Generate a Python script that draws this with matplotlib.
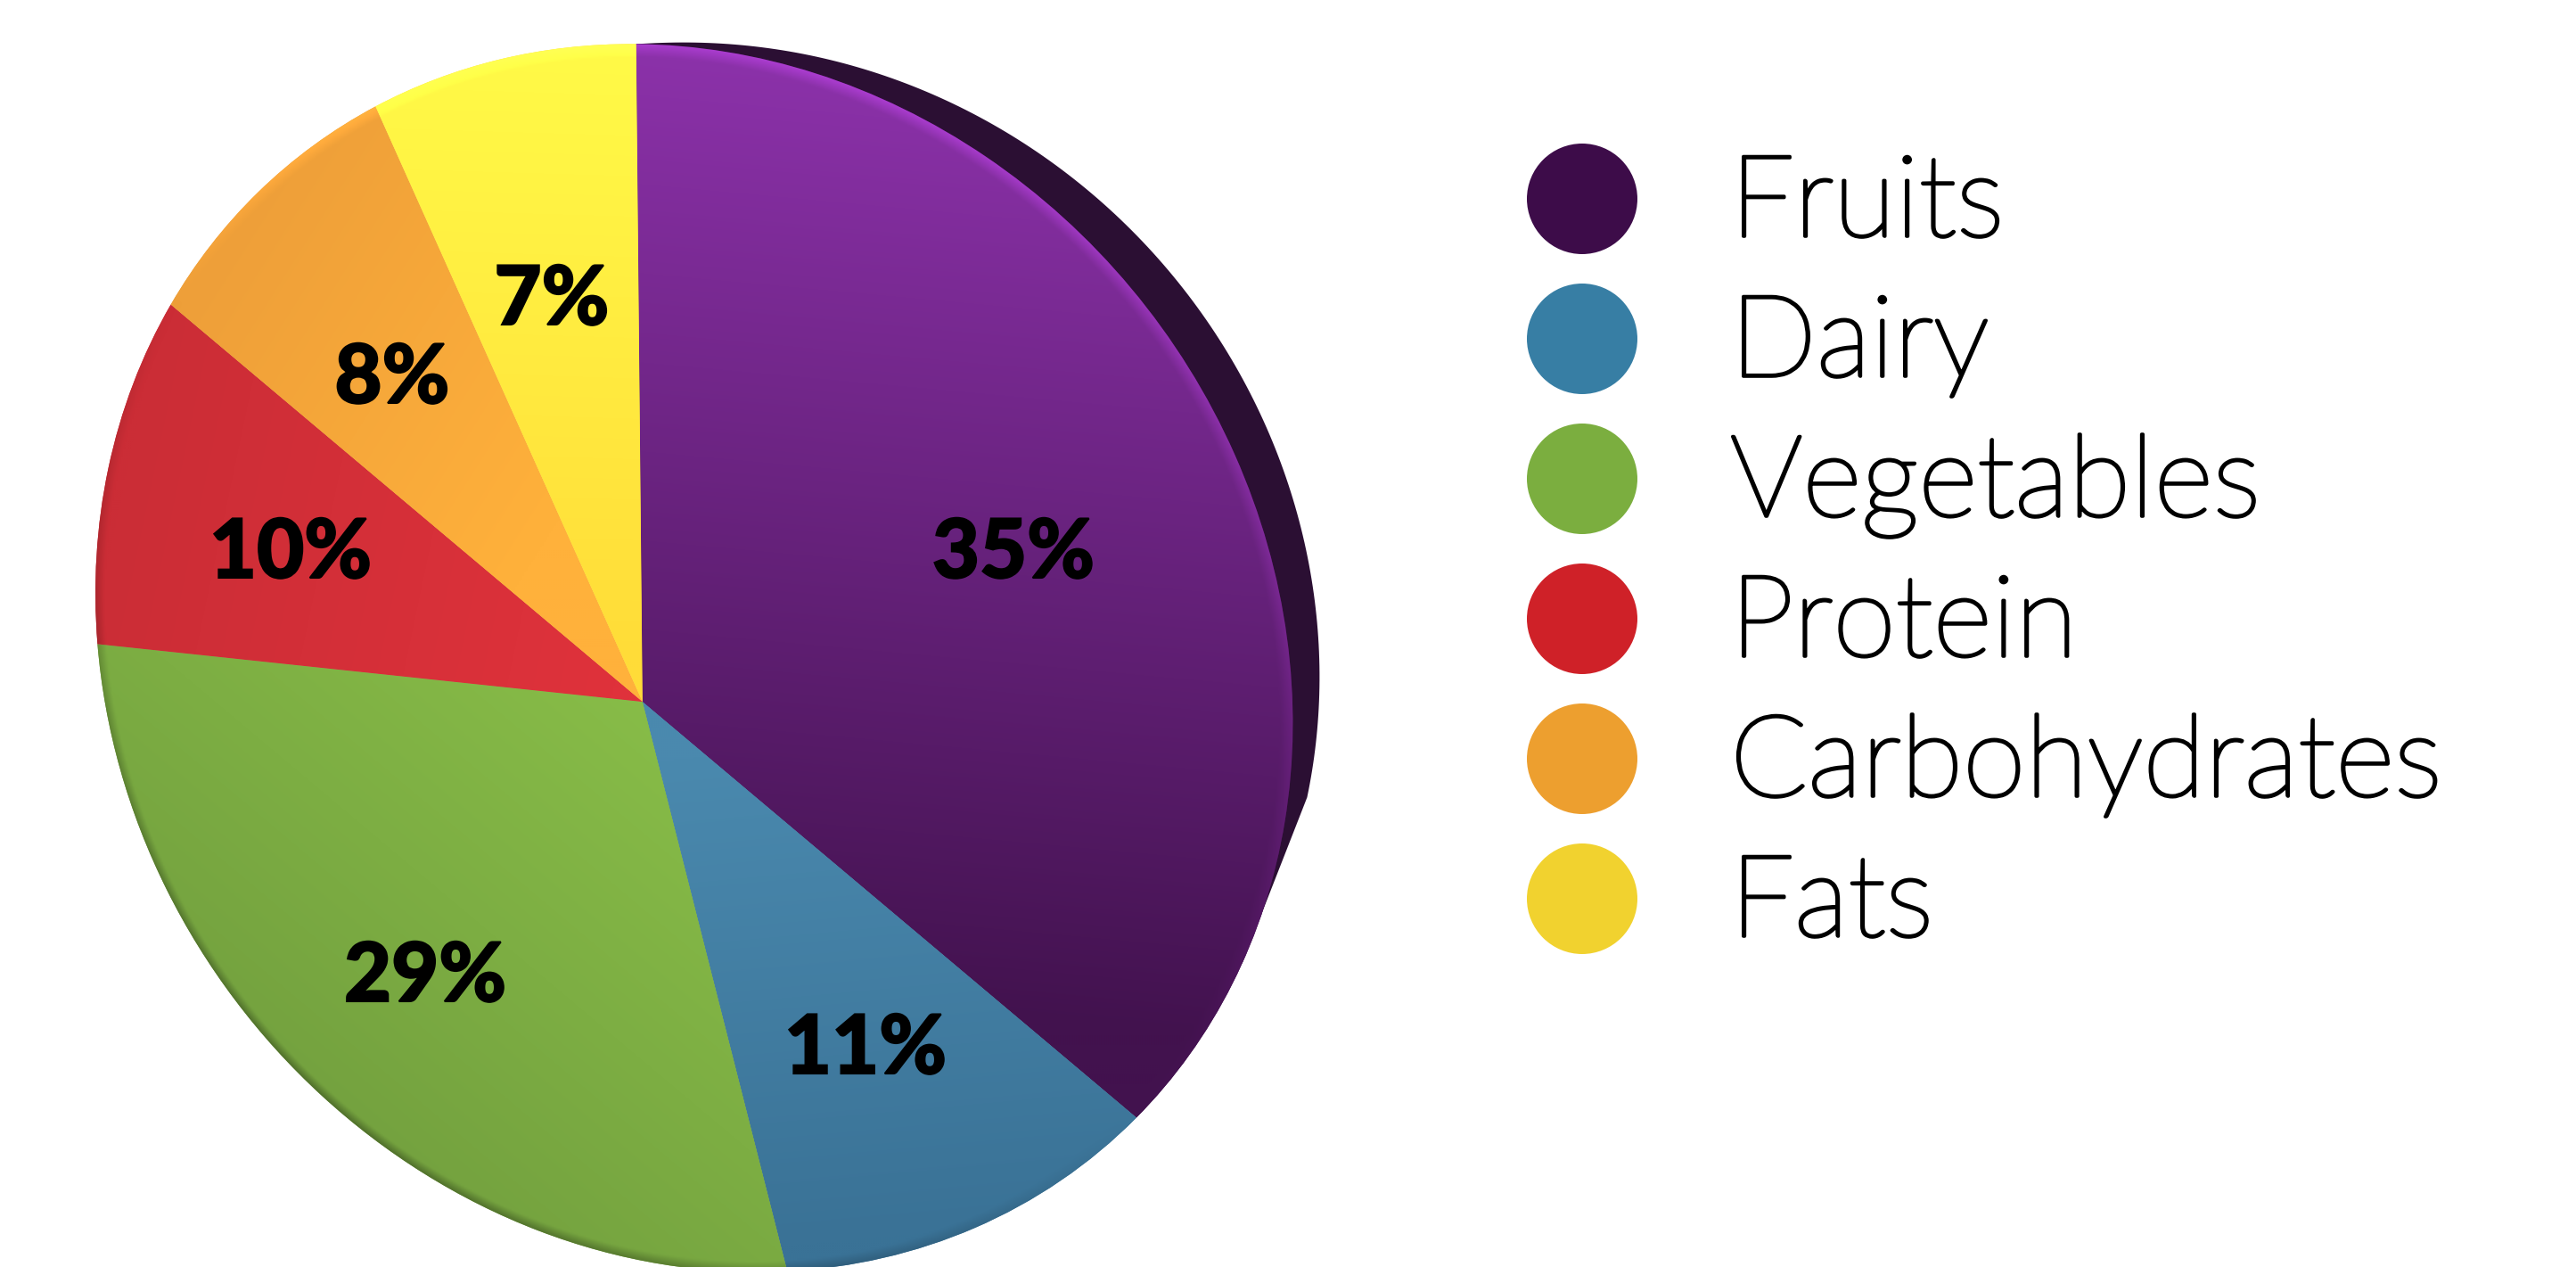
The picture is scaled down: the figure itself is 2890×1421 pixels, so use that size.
"""Pie chart of food group shares, drawn with a slight perspective tilt"""

import numpy as np
import matplotlib
matplotlib.use('Agg')
import matplotlib.pyplot as plt
import matplotlib.patheffects as pe
import matplotlib.transforms as mtransforms
from matplotlib.path import Path
from matplotlib.patches import PathPatch

# chart values
categories = ['Fruits', 'Dairy', 'Vegetables', 'Protein', 'Carbohydrates', 'Fats']
shares = [35, 11, 29, 10, 8, 7]
legend_colors = ['#3d0c49', '#377ea4', '#7bae3f', '#cf2128', '#ed9f2f', '#f1d22f']

# lit and shaded end of each slice fill
light_colors = ['#8f33ae', '#4a89ae', '#88bd48', '#df323b', '#ffb13b', '#fffa47']
dark_colors = ['#42124e', '#3a7296', '#729f3e', '#cb2d36', '#ee9f39', '#ffdc38']
grad_starts = [(1300, 60), (800, 850), (800, 830), (690, 760), (640, 560), (660, 60)]
grad_ends = [(1200, 1150), (850, 1400), (380, 1330), (120, 640), (230, 300), (640, 740)]

# percent label centres, pixels
label_xy = [(1137, 622), (971, 1178), (477, 1097), (326, 622), (440, 426), (619, 338)]

W, H = 2890, 1421

# where the pie centre and slice boundaries land on the canvas
apex = (713, 790)
rim_px = [(715, 48), (1275, 1253), (887, 1425), (109, 722), (192, 341), (424, 120)]
disc_middle = (780, 737)


def fit_homography(src, dst):
    rows = []
    for (x, y), (u, v) in zip(src, dst):
        rows.append([x, y, 1, 0, 0, 0, -u*x, -u*y, -u])
        rows.append([0, 0, 0, x, y, 1, -v*x, -v*y, -v])
    vt = np.linalg.svd(np.array(rows, dtype=float))[2]
    return vt[-1].reshape(3, 3)


def apply_h(m, pts):
    pts = np.asarray(pts, dtype=float)
    q = pts[..., 0, None]*m[:, 0] + pts[..., 1, None]*m[:, 1] + m[:, 2]
    return q[..., :2]/q[..., 2, None]


class PerspectiveTransform(mtransforms.Transform):
    input_dims = 2
    output_dims = 2
    is_separable = False

    def __init__(self, m):
        super().__init__()
        self.m = m

    def transform_non_affine(self, values):
        return apply_h(self.m, values)


# unit circle positions of the slice boundaries, clockwise from 12 o'clock
bounds = np.cumsum(shares)/np.sum(shares)*2*np.pi
src_pts = [(0, 0), (0, 1)] + [(np.sin(b), np.cos(b)) for b in bounds[:-1]]
dst_pts = [apex] + rim_px
M = fit_homography(src_pts, dst_pts)
M_inv = np.linalg.inv(M)

fig = plt.figure(figsize=(W/100, H/100), dpi=100)
ax = fig.add_axes([0, 0, 1, 1])
wedges, _ = ax.pie(shares, colors=light_colors, startangle=90, counterclock=False)
ax.set_aspect('auto')
ax.set_xlim(0, W)
ax.set_ylim(H, 0)
ax.set_axis_off()

persp = PerspectiveTransform(M) + ax.transData
for w, dk in zip(wedges, dark_colors):
    w.set_transform(persp)
    w.set_facecolor(dk)
    w.set_edgecolor('none')
    w.set_zorder(2)

# dark lip behind the first slice, pushed out along the rim normal
t_fade = np.radians(110)
t = np.linspace(0, np.radians(92), 160)
rim_pts = apply_h(M, np.column_stack([np.sin(t), np.cos(t)]))
normals = rim_pts - np.array(disc_middle)
normals /= np.hypot(normals[:, 0], normals[:, 1])[:, None]
lip_pts = rim_pts + normals*(46*np.sin(np.pi*t/t_fade)**1.1)[:, None]
t_join = np.radians(108)
tail = apply_h(M, np.array([(np.sin(t_join), np.cos(t_join)), (0, 0), (0, 1)]))
lip_path = Path(np.vstack([lip_pts, tail]))
ax.add_patch(PathPatch(lip_path, fc='#2b0f33', ec='none', zorder=1))

# per slice shading on a half size grid
gx, gy = np.meshgrid(np.arange(0, W + 2, 2), np.arange(0, H + 2, 2))
uv = apply_h(M_inv, np.dstack([gx, gy]))
r = np.hypot(uv[..., 0], uv[..., 1])
rim = np.clip((r - 0.982)/0.018, 0, 1)[..., None]
facing = (uv[..., 0]*0.6 + uv[..., 1]*0.8)[..., None]/np.maximum(r[..., None], 1e-6)
rim_gain = np.where(facing > 0, 1 + 0.25*facing, 1 + 0.3*facing)

for i, w in enumerate(wedges):
    p0 = np.array(grad_starts[i], dtype=float)
    p1 = np.array(grad_ends[i], dtype=float)
    d = p1 - p0
    s = np.clip(((gx - p0[0])*d[0] + (gy - p0[1])*d[1])/(d @ d), 0, 1)[..., None]
    c0 = np.array(matplotlib.colors.to_rgb(light_colors[i]))
    c1 = np.array(matplotlib.colors.to_rgb(dark_colors[i]))
    rgb = c0*(1 - s) + c1*s
    rgb = np.clip(rgb*(1 - rim) + rgb*rim_gain*rim, 0, 1)
    im = ax.imshow(rgb, extent=(-1, W + 1, H + 1, -1), interpolation='bilinear',
                   aspect='auto', zorder=3)
    im.set_clip_path(w)
ax.set_xlim(0, W)
ax.set_ylim(H, 0)

# percent labels
for (x, y), v in zip(label_xy, shares):
    ax.text(x, y, '{}%'.format(v), ha='center', va='center', color='black',
            fontfamily='Lato', fontweight='black', fontsize=66, zorder=5,
            path_effects=[pe.withStroke(linewidth=1.5, foreground='black', joinstyle='miter')])

# legend
row_y = 223 + np.arange(len(categories))*157
ax.scatter([1775]*len(categories), row_y, s=7970, c=legend_colors, linewidths=0, zorder=5)
for y, name in zip(row_y, categories):
    ax.text(1941, y + 42, name, ha='left', va='baseline', color='black',
            fontfamily='Lato', fontweight='light', fontsize=92, zorder=5,
            path_effects=[pe.withStroke(linewidth=2.6, foreground='black')])

fig.savefig('out.png', dpi=100, facecolor='white')
